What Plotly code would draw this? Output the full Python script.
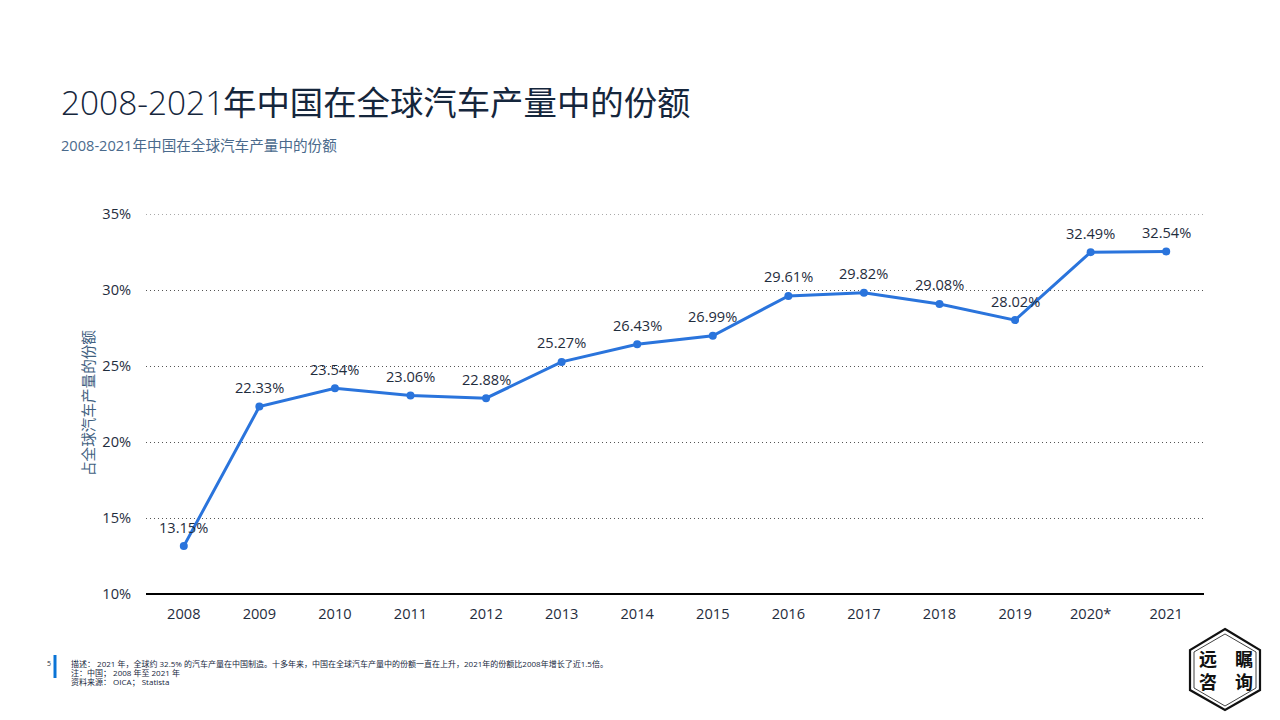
import plotly.graph_objects as go

categories = ["2008", "2009", "2010", "2011", "2012", "2013", "2014", "2015", "2016", "2017", "2018", "2019", "2020*", "2021"]
share = [13.15, 22.33, 23.54, 23.06, 22.88, 25.27, 26.43, 26.99, 29.61, 29.82, 29.08, 28.02, 32.49, 32.54]
y_ticks = [10, 15, 20, 25, 30, 35]
title_years = "2008-2021"
title_rest = "年中国在全球汽车产量中的份额"
subtitle = "2008-2021年中国在全球汽车产量中的份额"
y_title = "占全球汽车产量的份额"
footnotes = [
    "描述： 2021 年，全球约 32.5% 的汽车产量在中国制造。十多年来，中国在全球汽车产量中的份额一直在上升，2021年的份额比2008年增长了近1.5倍。",
    "注：中国； 2008 年至 2021 年",
    "资料来源： OICA； Statista",
]
FONT = "Open Sans, Noto Sans CJK SC, sans-serif"
# the page adds an 8px body margin, so the figure is 8px smaller on each leading edge
W, H = 1272, 712
PW, PH = 1058, 380   # plot area size

def pfx(x): return (x - 146) / PW
def pfy(y): return (594 - y) / PH

fig = go.Figure(go.Scatter(
    x=categories, y=share, mode="lines+markers",
    line=dict(color="#2a74dc", width=3), marker=dict(color="#2a74dc", size=8),
    cliponaxis=False, hoverinfo="skip", showlegend=False,
))
fig.update_layout(
    width=W, height=H, autosize=False, paper_bgcolor="white", plot_bgcolor="white",
    margin=dict(l=138, r=W - 138 - PW, t=206, b=H - 206 - PH),
    font=dict(family=FONT, color="#1f2d3d"),
)
fig.update_xaxes(type="category", range=[-0.5, len(categories) - 0.5],
                 showgrid=False, showline=False, zeroline=False,
                 ticks="outside", ticklen=6, tickcolor="rgba(0,0,0,0)",
                 tickfont=dict(size=14.6, color="#1f2d3d"))
fig.update_yaxes(range=[10, 35], tickvals=y_ticks, ticktext=[f"{t}%" for t in y_ticks],
                 showgrid=True, gridcolor="#555555", griddash="1px,3px", gridwidth=1,
                 zeroline=False, showline=False, ticks="outside", ticklen=11,
                 tickcolor="rgba(0,0,0,0)", tickfont=dict(size=14.6, color="#1f2d3d"))

for i, v in enumerate(share):
    fig.add_annotation(x=i, y=v, yshift=19.5, text=f"{v:.2f}%", showarrow=False,
                       xanchor="center", yanchor="middle",
                       font=dict(family=FONT, size=14.6, color="#1f2d3d"))

def note(x, y, text, size, color, weight=None, **kw):
    f = dict(size=size, color=color, family=FONT)
    if weight:
        f["weight"] = weight
    anchor = kw.pop("xanchor", "left")
    if anchor == "left":
        x -= 2
    fig.add_annotation(xref="paper", yref="paper", x=pfx(x), y=pfy(y), text=text, showarrow=False,
                       xanchor=anchor, yanchor="middle", font=f, **kw)

note(61, 101.5, title_years, 33.4, "#15263c", weight=300)
note(223, 101.5, title_rest, 33.4, "#15263c")
note(61, 145, subtitle, 14.6, "#4a6a8c")
note(88, 403, y_title, 14.6, "#3f5f7f", xanchor="center", textangle=-90)
note(47, 663, "5", 7, "#1f2d3d")
for i, t in enumerate(footnotes):
    note(71, 663 + i * 9.0, t, 8, "#15263c")

def add_shape(**kw):
    fig.add_shape(xref="paper", yref="paper", layer="above", **kw)

# top gridline sits on the axis edge, where the library omits it
fig.add_shape(type="line", xref="paper", yref="y", x0=0, x1=1, y0=y_ticks[-1], y1=y_ticks[-1],
              layer="below", line=dict(color="#555555", width=1, dash="1px,3px"))
# heavy baseline at 10%
add_shape(type="line", x0=0, x1=1, y0=0, y1=0, line=dict(color="#000000", width=2))
# footer accent bar
add_shape(type="rect", x0=pfx(53.5), x1=pfx(56.5), y0=pfy(678), y1=pfy(655),
          fillcolor="#0a74d6", line=dict(width=0))

# logo hexagons
for pts, w in (([(1225, 629), (1260, 650), (1260, 690), (1225, 710), (1190, 690), (1190, 650)], 2.2),
               ([(1225, 634), (1256, 652), (1256, 688), (1225, 706), (1194, 688), (1194, 652)], 0.8)):
    d = "M " + " L ".join(f"{pfx(x):.5f},{pfy(y):.5f}" for x, y in pts) + " Z"
    add_shape(type="path", path=d, line=dict(color="#111111", width=w))
note(1226, 670, "远\u2003瞩<br>咨\u2003询", 18, "#111111", weight=700, xanchor="center")

fig.write_html("out.html")
